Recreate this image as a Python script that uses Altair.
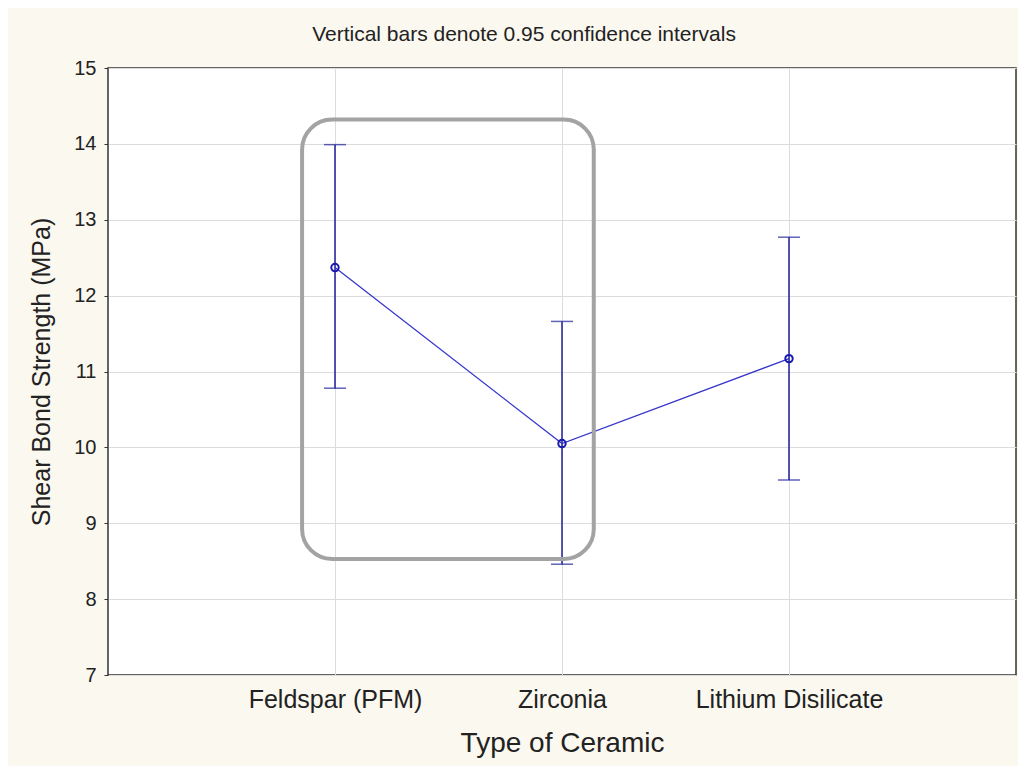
import altair as alt
import pandas as pd

categories = ["Feldspar (PFM)", "Zirconia", "Lithium Disilicate"]
positions = [1, 2, 3]
means = [12.37, 10.05, 11.17]
lower = [10.78, 8.46, 9.57]
upper = [13.99, 11.66, 12.77]

# highlight box around first two groups (data coordinates)
box_x = [0.855]
box_x2 = [2.14]
box_y = [8.53]
box_y2 = [14.32]

df = pd.DataFrame({"pos": positions, "cat": categories, "mean": means,
                   "lo": lower, "hi": upper})
box = pd.DataFrame({"x": box_x, "x2": box_x2, "y": box_y, "y2": box_y2})

label_expr = " : ".join(
    [f"datum.value == {p} ? '{c}'" for p, c in zip(positions, categories)]
) + " : ''"

FONT = "Liberation Sans"
BLUE = "#1f1f9a"

xscale = alt.Scale(domain=[0, 4], nice=False, zero=False)
yscale = alt.Scale(domain=[7, 15], nice=False, zero=False)

xaxis = alt.Axis(values=positions, labelExpr=label_expr, title="Type of Ceramic",
                 grid=True, gridColor="#dcdcdc", ticks=False, domain=False,
                 labelFontSize=25, labelFont=FONT, labelColor="#222", labelLimit=0,
                 labelPadding=12, titleFontSize=28, titleFont=FONT,
                 titleFontWeight="normal", titleColor="#222", titlePadding=17)
yaxis = alt.Axis(values=list(range(7, 16)), format="d",
                 title="Shear Bond Strength (MPa)",
                 grid=True, gridColor="#dcdcdc", tickSize=4, tickColor="#333",
                 domain=False, labelFontSize=20, labelFont=FONT, labelColor="#222",
                 labelPadding=8, titleFontSize=25, titleFont=FONT,
                 titleFontWeight="normal", titleColor="#222", titlePadding=19)

base = alt.Chart(df)

rules = base.mark_rule(color=BLUE, strokeWidth=1.5).encode(
    x=alt.X("pos:Q", scale=xscale, axis=xaxis),
    y=alt.Y("lo:Q", scale=yscale, axis=yaxis),
    y2="hi:Q",
)
cap_lo = base.mark_tick(color=BLUE, orient="horizontal", size=22, thickness=1.5).encode(
    x=alt.X("pos:Q", scale=xscale), y=alt.Y("lo:Q", scale=yscale))
cap_hi = base.mark_tick(color=BLUE, orient="horizontal", size=22, thickness=1.5).encode(
    x=alt.X("pos:Q", scale=xscale), y=alt.Y("hi:Q", scale=yscale))
line = base.mark_line(color="#3636cc", strokeWidth=1.3).encode(
    x=alt.X("pos:Q", scale=xscale), y=alt.Y("mean:Q", scale=yscale))
pts = base.mark_point(shape="circle", filled=False, color="#1a1ab0", size=55,
                      strokeWidth=2, opacity=1).encode(
    x=alt.X("pos:Q", scale=xscale), y=alt.Y("mean:Q", scale=yscale))

rect = alt.Chart(box).mark_rect(fillOpacity=0, stroke="#a3a3a3", strokeWidth=4,
                                cornerRadius=30).encode(
    x=alt.X("x:Q", scale=xscale), x2="x2:Q",
    y=alt.Y("y:Q", scale=yscale), y2="y2:Q")

chart = alt.layer(rules, cap_lo, cap_hi, line, pts, rect).properties(
    width=908, height=607,
    title=alt.TitleParams("Vertical bars denote 0.95 confidence intervals",
                          fontSize=21, font=FONT, fontWeight="normal",
                          color="#222", anchor="middle", dx=-38, offset=13),
    autosize=alt.AutoSizeParams(type="none"),
    padding={"left": 100, "top": 60, "right": 2, "bottom": 91},
    background="#fbf8ef",
).configure_view(fill="white", stroke="#333", strokeWidth=1.5)

chart.save("out.html", embed_options={"renderer": "svg", "actions": False})
